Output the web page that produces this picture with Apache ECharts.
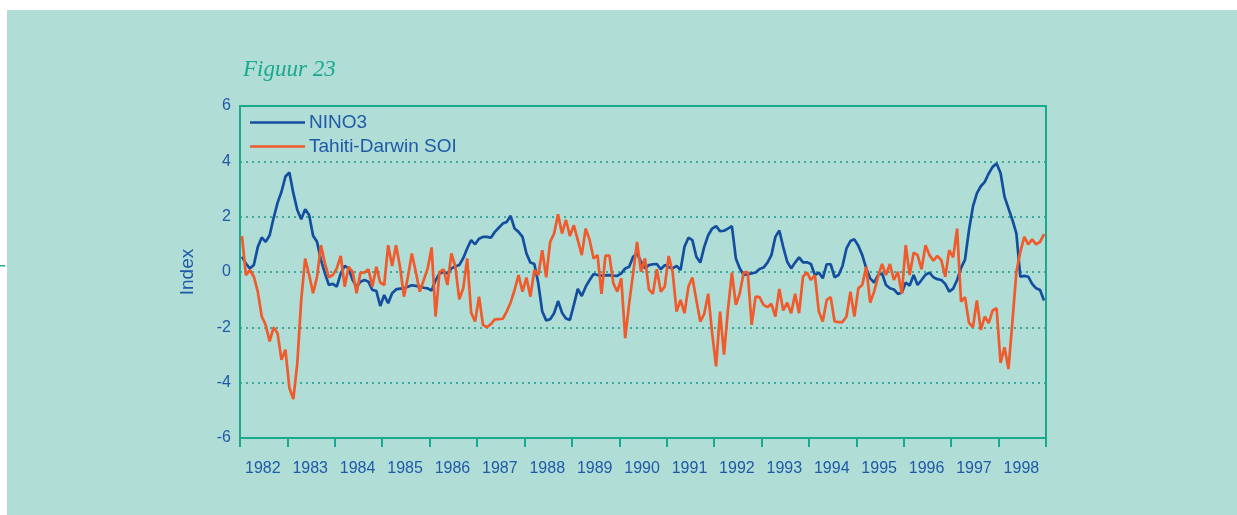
<!DOCTYPE html>
<html>
<head>
<meta charset="utf-8">
<title>Figuur 23</title>
<script src="https://cdn.jsdelivr.net/npm/echarts@6/dist/echarts.min.js"></script>
<style>
    html, body { margin: 0; padding: 0; background: #fff; }
    #main { width: 1237px; height: 515px; }
</style>
</head>
<body>
<div id="main"></div>
<script>
// jaartallen op de x-as
var years = [1982, 1983, 1984, 1985, 1986, 1987, 1988, 1989, 1990,
    1991, 1992, 1993, 1994, 1995, 1996, 1997, 1998];

// maandelijkse waarden, jan 1982 t/m dec 1998
var nino3 = [
    0.55, 0.3, 0.13, 0.25, 0.9, 1.25, 1.09, 1.33, 1.95, 2.5,
    2.9, 3.45, 3.6, 2.85, 2.24, 1.91, 2.27, 2.06, 1.31, 1.09,
    0.43, -0.05, -0.47, -0.43, -0.53, -0.05, 0.22, 0.13, -0.29, -0.53,
    -0.35, -0.29, -0.35, -0.65, -0.68, -1.23, -0.83, -1.13, -0.77, -0.63,
    -0.6, -0.59, -0.53, -0.48, -0.5, -0.53, -0.57, -0.59, -0.67, -0.3,
    -0.05, 0, -0.05, 0.13, 0.2, 0.25, 0.5, 0.85, 1.15, 1.0,
    1.2, 1.27, 1.27, 1.24, 1.45, 1.6, 1.75, 1.81, 2.03, 1.57,
    1.45, 1.27, 0.67, 0.34, 0.29, -0.41, -1.43, -1.75, -1.71, -1.49,
    -1.05, -1.47, -1.68, -1.73, -1.19, -0.61, -0.87, -0.53, -0.29, -0.07,
    -0.11, -0.13, -0.12, -0.11, -0.13, -0.14, -0.05, 0.13, 0.19, 0.55,
    0.67, 0.37, 0.13, 0.25, 0.28, 0.29, 0.1, 0.25, 0.18, 0.13,
    0.22, 0.07, 0.91, 1.24, 1.15, 0.55, 0.34, 0.91, 1.33, 1.57,
    1.66, 1.48, 1.49, 1.57, 1.66, 0.49, 0.13, -0.11, -0.08, -0.05,
    -0.02, 0.11, 0.16, 0.34, 0.61, 1.27, 1.5, 0.9, 0.37, 0.13,
    0.34, 0.53, 0.35, 0.35, 0.29, -0.11, -0.02, -0.23, 0.28, 0.28,
    -0.19, -0.11, 0.22, 0.85, 1.12, 1.18, 0.95, 0.61, 0.13, -0.23,
    -0.38, -0.11, -0.05, -0.47, -0.59, -0.63, -0.79, -0.75, -0.38, -0.49,
    -0.11, -0.47, -0.29, -0.1, -0.02, -0.19, -0.26, -0.29, -0.43, -0.71,
    -0.6, -0.29, 0.15, 0.45, 1.51, 2.36, 2.84, 3.1, 3.26, 3.56,
    3.8, 3.92, 3.58, 2.72, 2.3, 1.88, 1.4, -0.17, -0.14, -0.17,
    -0.43, -0.59, -0.65, -1.03
];

var soi = [
    1.3, -0.11, 0.07, -0.17, -0.71, -1.61, -1.91, -2.51, -2.0, -2.21,
    -3.17, -2.81, -4.19, -4.59, -3.3, -1.0, 0.49, -0.11, -0.77, -0.17,
    0.97, 0.31, -0.19, -0.11, 0.13, 0.58, -0.53, 0.19, 0.01, -0.77,
    -0.02, -0.02, 0.1, -0.53, 0.19, -0.38, -0.47, 0.97, 0.22, 0.97,
    0.19, -0.89, -0.17, 0.67, 0, -0.71, -0.29, 0.13, 0.89, -1.61,
    0, 0.1, -0.47, 0.67, 0.19, -0.99, -0.59, 0.49, -1.47, -1.79,
    -0.89, -1.91, -2.0, -1.88, -1.71, -1.7, -1.69, -1.43, -1.1, -0.65,
    -0.11, -0.71, -0.2, -0.89, 0.07, -0.11, 0.79, -0.19, 1.09, 1.39,
    2.09, 1.39, 1.88, 1.3, 1.69, 1.15, 0.61, 1.57, 1.15, 0.49,
    0.61, -0.79, 0.59, 0.59, -0.41, -0.71, -0.23, -2.39, -1.13, -0.05,
    1.09, 0.01, 0.49, -0.63, -0.79, 0.1, -0.71, -0.53, 0.58, 0,
    -1.43, -1.01, -1.49, -0.53, -0.2, -1.01, -1.79, -1.51, -0.79, -2.21,
    -3.41, -1.43, -2.99, -1.37, -0.02, -1.19, -0.77, -0.01, 0, -1.91,
    -0.89, -0.91, -1.19, -1.27, -1.15, -1.61, -0.61, -1.39, -1.11, -1.49,
    -0.79, -1.49, -0.17, -0.01, -0.29, -0.11, -1.43, -1.79, -1.01, -0.91,
    -1.79, -1.81, -1.81, -1.61, -0.71, -1.61, -0.59, -0.47, 0.19, -1.11,
    -0.71, -0.17, 0.29, -0.11, 0.29, -0.29, 0.01, -0.79, 0.97, -0.11,
    0.7, 0.61, 0.1, 0.97, 0.61, 0.41, 0.58, 0.43, -0.17, 0.79,
    0.53, 1.57, -1.07, -0.91, -1.83, -2.0, -1.03, -2.09, -1.61, -1.85,
    -1.39, -1.31, -3.29, -2.72, -3.51, -1.79, 0, 0.73, 1.27, 1.0,
    1.18, 1.0, 1.09, 1.37
];

// maandlabels voor de categorie-as
var months = [];
years.forEach(function (y) {
    for (var m = 1; m <= 12; m++) {
        months.push(y + '-' + (m < 10 ? '0' + m : m));
    }
});

var teal = '#1aa88e';
var blue = '#1f5aa8';

var chart = echarts.init(document.getElementById('main'));
var option = {
    backgroundColor: '#ffffff',
    animation: false,
    graphic: [
        {
            type: 'rect',
            z: -10,
            shape: {x: 7, y: 10, width: 1230, height: 505},
            style: {fill: '#b0ddd6'}
        },
        {
            type: 'rect',
            shape: {x: 0, y: 265, width: 5, height: 1.5},
            style: {fill: teal}
        }
    ],
    title: {
        text: 'Figuur 23',
        left: 238,
        top: 53,
        textStyle: {
            color: teal,
            fontFamily: 'Liberation Serif',
            fontStyle: 'italic',
            fontWeight: 'normal',
            fontSize: 23
        }
    },
    legend: {
        orient: 'vertical',
        left: 245,
        top: 108,
        icon: 'rect',
        itemWidth: 55,
        itemHeight: 2.5,
        itemGap: 5,
        textStyle: {
            color: blue,
            fontFamily: 'Liberation Sans',
            fontSize: 19,
            lineHeight: 19,
            padding: [0, 0, 0, -1]
        },
        data: ['NINO3', 'Tahiti-Darwin SOI']
    },
    grid: {
        left: 240,
        right: 191,
        top: 106,
        bottom: 77
    },
    xAxis: [
        {
            // data-as, alleen de bovenrand tonen
            type: 'category',
            position: 'top',
            boundaryGap: true,
            data: months,
            axisLine: {onZero: false, lineStyle: {color: teal, width: 2}},
            axisTick: {show: false},
            axisLabel: {show: false},
            splitLine: {show: false}
        },
        {
            // jaar-as onderaan met streepjes
            type: 'value',
            position: 'bottom',
            min: 1982,
            max: 1999,
            interval: 1,
            axisLine: {onZero: false, lineStyle: {color: teal, width: 2}},
            axisTick: {show: true, length: 9, lineStyle: {color: teal, width: 2}},
            axisLabel: {
                color: blue,
                fontFamily: 'Liberation Sans',
                fontSize: 16,
                margin: 23,
                align: 'left',
                padding: [0, 0, 0, 5],
                formatter: function (v) {
                    return years.indexOf(v) >= 0 ? String(v) : '';
                }
            },
            splitLine: {show: false}
        }
    ],
    yAxis: [
        {
            type: 'value',
            min: -6,
            max: 6,
            interval: 2,
            name: 'Index',
            nameLocation: 'middle',
            nameGap: 43,
            nameTextStyle: {
                color: blue,
                fontFamily: 'Liberation Sans',
                fontSize: 19
            },
            axisLine: {show: true, onZero: false, lineStyle: {color: teal, width: 2}},
            axisTick: {show: false},
            axisLabel: {
                color: blue,
                fontFamily: 'Liberation Sans',
                fontSize: 16,
                margin: 9
            },
            splitLine: {
                show: true,
                showMinLine: false,
                showMaxLine: false,
                lineStyle: {color: '#199b86', width: 1.5, type: [2, 4]}
            }
        },
        {
            // rechterrand
            type: 'value',
            position: 'right',
            min: -6,
            max: 6,
            interval: 2,
            axisLine: {show: true, onZero: false, lineStyle: {color: teal, width: 2}},
            axisTick: {show: false},
            axisLabel: {show: false},
            splitLine: {show: false}
        }
    ],
    series: [
        {
            name: 'NINO3',
            type: 'line',
            xAxisIndex: 0,
            yAxisIndex: 0,
            data: nino3,
            showSymbol: false,
            symbol: 'none',
            lineStyle: {color: '#134f9e', width: 2.7},
            itemStyle: {color: '#134f9e'},
            z: 3
        },
        {
            name: 'Tahiti-Darwin SOI',
            type: 'line',
            xAxisIndex: 0,
            yAxisIndex: 0,
            data: soi,
            showSymbol: false,
            symbol: 'none',
            lineStyle: {color: '#f15a2b', width: 2.7},
            itemStyle: {color: '#f15a2b'},
            z: 4
        }
    ]
};
chart.setOption(option);
</script>
</body>
</html>
